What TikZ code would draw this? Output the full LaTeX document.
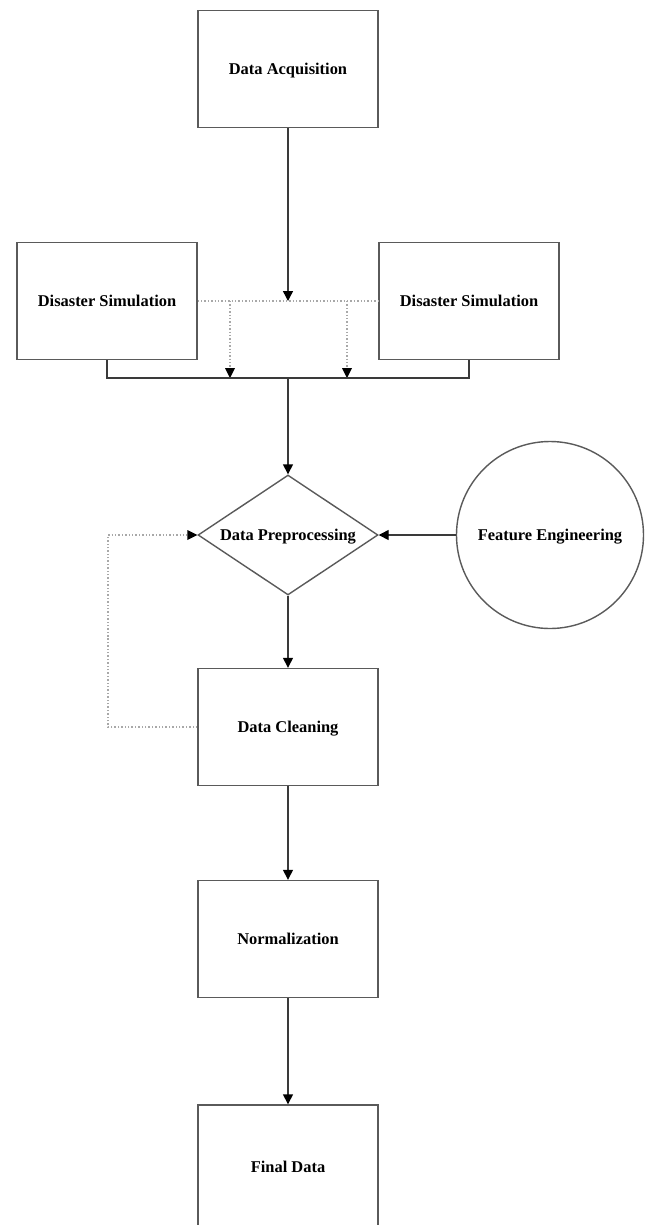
\documentclass[tikz,border=0pt]{standalone}
\usepackage{fontspec}
\setmainfont{Liberation Serif}
\usetikzlibrary{shapes.geometric,arrows.meta}
\definecolor{boxline}{HTML}{5A5A5A}
\definecolor{arrline}{HTML}{3A3A3A}
\definecolor{dotline}{HTML}{A8A8A8}
\tikzset{
  every node/.style={font=\fontsize{16.5}{19}\selectfont\bfseries, text height=11bp, text depth=0pt},
  procbox/.style={draw=boxline, line width=1.4bp, rectangle, minimum width=180bp, minimum height=117bp, inner sep=0pt},
  decbox/.style={draw=boxline, line width=1.4bp, diamond, aspect=1.5, minimum width=180bp, minimum height=120bp, inner sep=0pt},
  circbox/.style={draw=boxline, line width=1.4bp, circle, minimum size=187bp, inner sep=0pt},
  flow/.style={draw=arrline, line width=1.4bp, -{Triangle[length=10bp,width=10bp,color=black]}},
  plainline/.style={draw=arrline, line width=1.4bp},
  dotflow/.style={draw=dotline, line width=1.4bp, dotted, -{Triangle[length=10bp,width=10bp,color=black,line width=0pt]}},
  dotplain/.style={draw=dotline, line width=1.4bp, dotted},
}
\begin{document}
\begin{tikzpicture}[x=1bp,y=-1bp]
\useasboundingbox (0,0) rectangle (651,1225);
\clip (0,0) rectangle (651,1225);
\node[procbox] (acq) at (288,69) {Data Acquisition};
\node[procbox] (dsL) at (107,301) {Disaster Simulation};
\node[procbox] (dsR) at (469,301) {Disaster Simulation};
\node[decbox] (pre) at (288,535) {Data Preprocessing};
\node[circbox] (fe) at (550,535) {Feature Engineering};
\node[procbox] (clean) at (288,727) {Data Cleaning};
\node[procbox] (norm) at (288,939) {Normalization};
\node[procbox, minimum height=124bp] (final) at (288,1167) {Final Data};

\coordinate (j1) at (288,301);
\coordinate (j2) at (288,378);
\coordinate (d1) at (230,301);
\coordinate (d2) at (347,301);
\coordinate (e1) at (230,378);
\coordinate (e2) at (347,378);
\coordinate (lp) at (108,727);

\draw[dotplain] (dsL.east) -- (dsR.west);
\draw[flow] (acq.south) -- (j1);
\draw[dotflow] (d1) -- (e1);
\draw[dotflow] (d2) -- (e2);
\draw[plainline] (dsL.south) |- (j2) -| (dsR.south);
\draw[flow] (j2) -- (pre.north);
\draw[flow] (fe.west) -- (pre.east);
\draw[flow] (pre.south) -- (clean.north);
\draw[dotflow] (clean.west) -- (lp) |- (pre.west);
\draw[flow] (clean.south) -- (norm.north);
\draw[flow] (norm.south) -- (final.north);
\end{tikzpicture}
\end{document}
